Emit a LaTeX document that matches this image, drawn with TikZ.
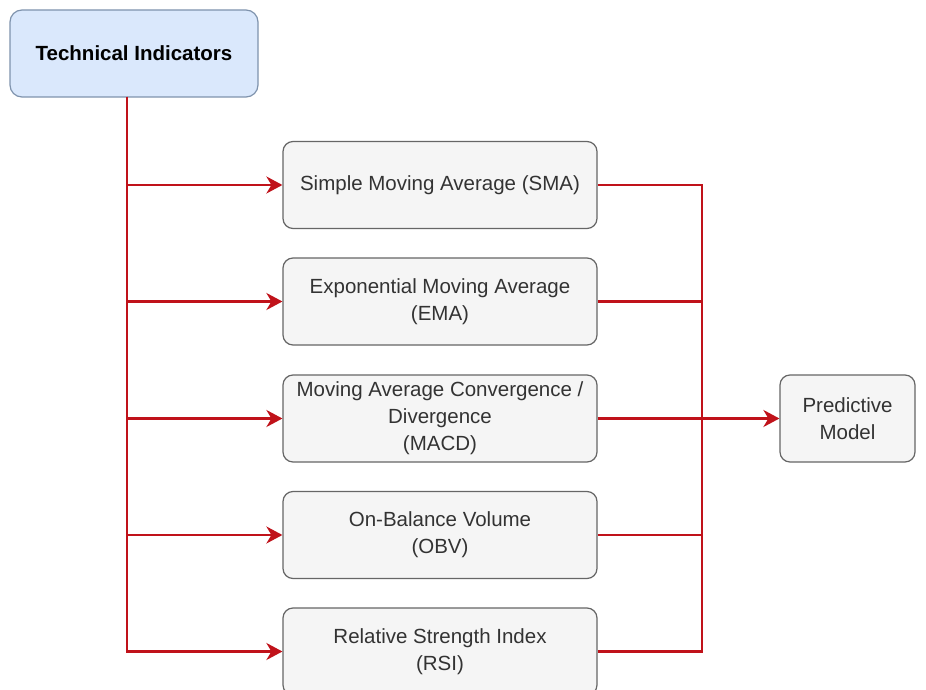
\documentclass[tikz,border=0pt]{standalone}
\usepackage{fontspec}
\setmainfont{Liberation Sans}
\usetikzlibrary{arrows.meta}
\definecolor{redline}{HTML}{C0121A}
\definecolor{boxfill}{HTML}{F5F5F5}
\definecolor{boxdraw}{HTML}{666666}
\definecolor{bluefill}{HTML}{DAE8FC}
\definecolor{bluedraw}{HTML}{7F93AD}
\definecolor{txt}{HTML}{333333}
\tikzset{
  ind/.style={draw=boxdraw, fill=boxfill, line width=1.2pt, rounded corners=10pt,
    minimum width=314pt, minimum height=87pt, inner sep=2pt, align=center,
    text=txt, font=\fontsize{20.5}{27}\selectfont},
  topbox/.style={draw=bluedraw, fill=bluefill, line width=1.2pt, rounded corners=12pt,
    minimum width=248pt, minimum height=87pt, align=center,
    text=black, font=\fontsize{20.5}{27}\selectfont\bfseries},
  pmbox/.style={ind, minimum width=135pt},
  wire/.style={draw=redline, line width=2.2pt},
  arr/.style={wire, -{Stealth[length=16pt,width=17pt,inset=5pt]}},
}
\begin{document}
\begin{tikzpicture}[x=1pt,y=-1pt]
\useasboundingbox[fill=white] (0,0) rectangle (926,690);
\node[topbox] (tech) at (134,53.5) {Technical Indicators};
\node[ind] (sma) at (440,185) {Simple Moving Average (SMA)};
\node[ind] (ema) at (440,301.5) {Exponential Moving Average\\(EMA)};
\node[ind] (macd) at (440,418.5) {Moving Average Convergence /\\Divergence\\(MACD)};
\node[ind] (obv) at (440,535) {On-Balance Volume\\(OBV)};
\node[ind] (rsi) at (440,651.5) {Relative Strength Index\\(RSI)};
\node[pmbox] (pm) at (847.5,418.5) {Predictive\\Model};
\coordinate (t) at (127,97);
\coordinate (j) at (702,418.5);
\draw[arr] (t) |- (sma.west);
\draw[arr] (t) |- (ema.west);
\draw[arr] (t) |- (macd.west);
\draw[arr] (t) |- (obv.west);
\draw[arr] (t) |- (rsi.west);
\draw[wire] (sma.east) -| (j);
\draw[wire] (ema.east) -| (j);
\draw[wire] (obv.east) -| (j);
\draw[wire] (rsi.east) -| (j);
\draw[arr] (macd.east) -- (pm.west);
\end{tikzpicture}
\end{document}
